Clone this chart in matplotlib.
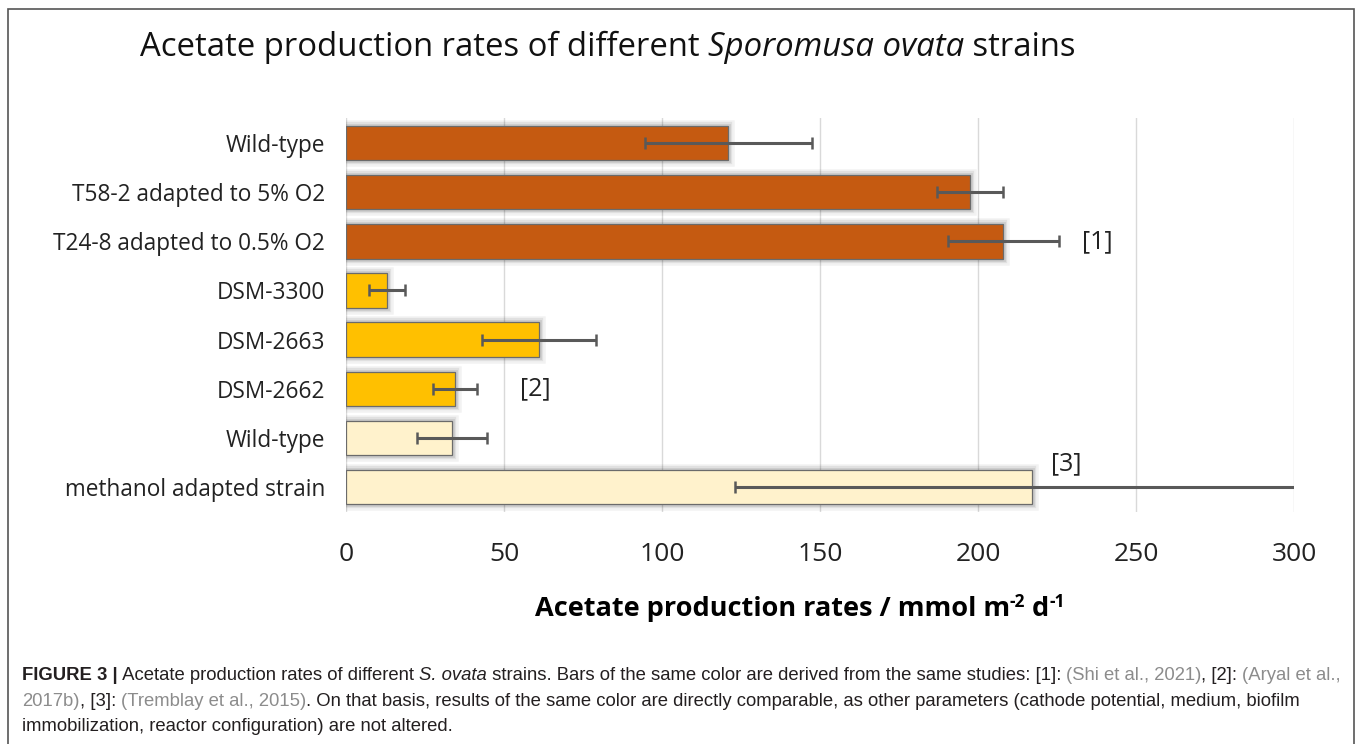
import matplotlib
matplotlib.use("Agg")
import matplotlib.pyplot as plt
import matplotlib.patheffects as pe
from matplotlib.patches import Rectangle
import numpy as np

# ---- data ----
categories = ["Wild-type", "T58-2 adapted to 5% O2", "T24-8 adapted to 0.5% O2",
              "DSM-3300", "DSM-2663", "DSM-2662", "Wild-type", "methanol adapted strain"]
values = [121, 197.5, 208, 13, 61, 34.5, 33.5, 217]
errors = [26.5, 10.5, 17.5, 5.7, 18, 7, 11, 94]
groups = [0, 0, 0, 1, 1, 1, 2, 2]
group_colors = ["#C55A11", "#FFC000", "#FFF2CC"]
group_labels = ["[1]", "[2]", "[3]"]
label_pos_x = [233, 55, 223]
label_pos_y = [2, 5, 6.52]
xticks = [0, 50, 100, 150, 200, 250, 300]

W, H = 1357, 744
fig = plt.figure(figsize=(W / 100, H / 100), dpi=100)
fig.patch.set_facecolor("white")
renderer = fig.canvas.get_renderer()

font = ["Open Sans", "DejaVu Sans"]

ax = fig.add_axes([346 / W, 1 - 511.6 / H, (1294 - 346) / W, (511.6 - 118.5) / H])
y = np.arange(len(categories))

for i, (v, e, g) in enumerate(zip(values, errors, groups)):
    b = ax.barh(y[i], v, height=0.7, color=group_colors[g], edgecolor="#6b6b6b",
                linewidth=0.9, zorder=3)
    for p in b.patches:
        p.set_path_effects([
            pe.Stroke(linewidth=9, foreground="#000000", alpha=0.05),
            pe.Stroke(linewidth=6, foreground="#000000", alpha=0.07),
            pe.Stroke(linewidth=3.5, foreground="#000000", alpha=0.09),
            pe.Normal()])
    ax.errorbar(v, y[i], xerr=e, fmt="none", ecolor="#595959", elinewidth=2.2,
                capsize=4.5, capthick=1.8, zorder=4, clip_on=True)

ax.set_xlim(0, 300)
ax.set_ylim(len(categories) - 0.5, -0.5)
ax.set_xticks(xticks)
ax.set_xticklabels([str(t) for t in xticks], fontsize=19, family=font, color="#222222")
ax.set_yticks(y)
ax.set_yticklabels(categories, fontsize=16.3, family=font, color="#222222")
ax.tick_params(axis="both", length=0)
ax.tick_params(axis="y", pad=15)
ax.tick_params(axis="x", pad=22)
ax.grid(axis="x", color="#D9D9D9", linewidth=1, zorder=0)
ax.set_axisbelow(True)
for s in ax.spines.values():
    s.set_visible(False)

for lab, lx, ly in zip(group_labels, label_pos_x, label_pos_y):
    ax.text(lx, ly, lab, fontsize=18, family=font, color="#222222", va="center", ha="left")


def draw_segments(segs, x0, ybase, center=False):
    """segs: list of (text, kwargs, dy_px). Draws left to right; returns total width."""
    arts = []
    x = x0
    for txt, kw, dy in segs:
        t = fig.text(x / W, 1 - (ybase - dy) / H, txt, ha="left", va="baseline", **kw)
        bb = t.get_window_extent(renderer=renderer)
        arts.append(t)
        x += bb.width
    total = x - x0
    if center:
        shift = total / 2
        for t in arts:
            px, py = t.get_position()
            t.set_position((px - shift / W, py))
    return total


# x label with manual superscripts
xl_main = dict(fontsize=19.5, family=font, fontweight="bold", color="#000000")
xl_sup = dict(fontsize=12.5, family=font, fontweight="bold", color="#000000")
draw_segments([("Acetate production rates / mmol m", xl_main, 0),
               ("-2", xl_sup, 9),
               (" d", xl_main, 0),
               ("-1", xl_sup, 9)], 800, 616, center=True)

# title
t_kw = dict(fontsize=23.7, family=font, color="#111111")
t_it = dict(fontsize=23.7, family=font, color="#111111", fontstyle="italic")
draw_segments([("Acetate production rates of different ", t_kw, 0),
               ("Sporomusa ovata", t_it, 0),
               (" strains", t_kw, 0)], 140, 56)

# frame
fig.add_artist(Rectangle((8 / W, -0.01), (1354 - 8) / W, 1 - 9 / H + 0.01,
                         transform=fig.transFigure, fill=False, edgecolor="#555555",
                         linewidth=1.2))

# caption
cap_font = ["Liberation Sans", "DejaVu Sans"]
cap_size = 13.3
black = "#231f20"
gray = "#8c8c8c"


def ck(col, wt="normal", st="normal"):
    return dict(fontsize=cap_size, family=cap_font, color=col, fontweight=wt, fontstyle=st)


lines = [
    [("FIGURE 3 |", ck(black, "bold")),
     (" Acetate production rates of different ", ck(black)),
     ("S. ovata", ck(black, st="italic")),
     (" strains. Bars of the same color are derived from the same studies: [1]: ", ck(black)),
     ("(Shi et al., 2021)", ck(gray)),
     (", [2]: ", ck(black)),
     ("(Aryal et al.,", ck(gray))],
    [("2017b)", ck(gray)),
     (", [3]: ", ck(black)),
     ("(Tremblay et al., 2015)", ck(gray)),
     (". On that basis, results of the same color are directly comparable, as other parameters (cathode potential, medium, biofilm",
      ck(black))],
    [("immobilization, reactor configuration) are not altered.", ck(black))],
]
line_y = [680, 706, 731]
for segs, ly in zip(lines, line_y):
    draw_segments([(t, k, 0) for t, k in segs], 22, ly)

fig.savefig("out.png", dpi=100)
